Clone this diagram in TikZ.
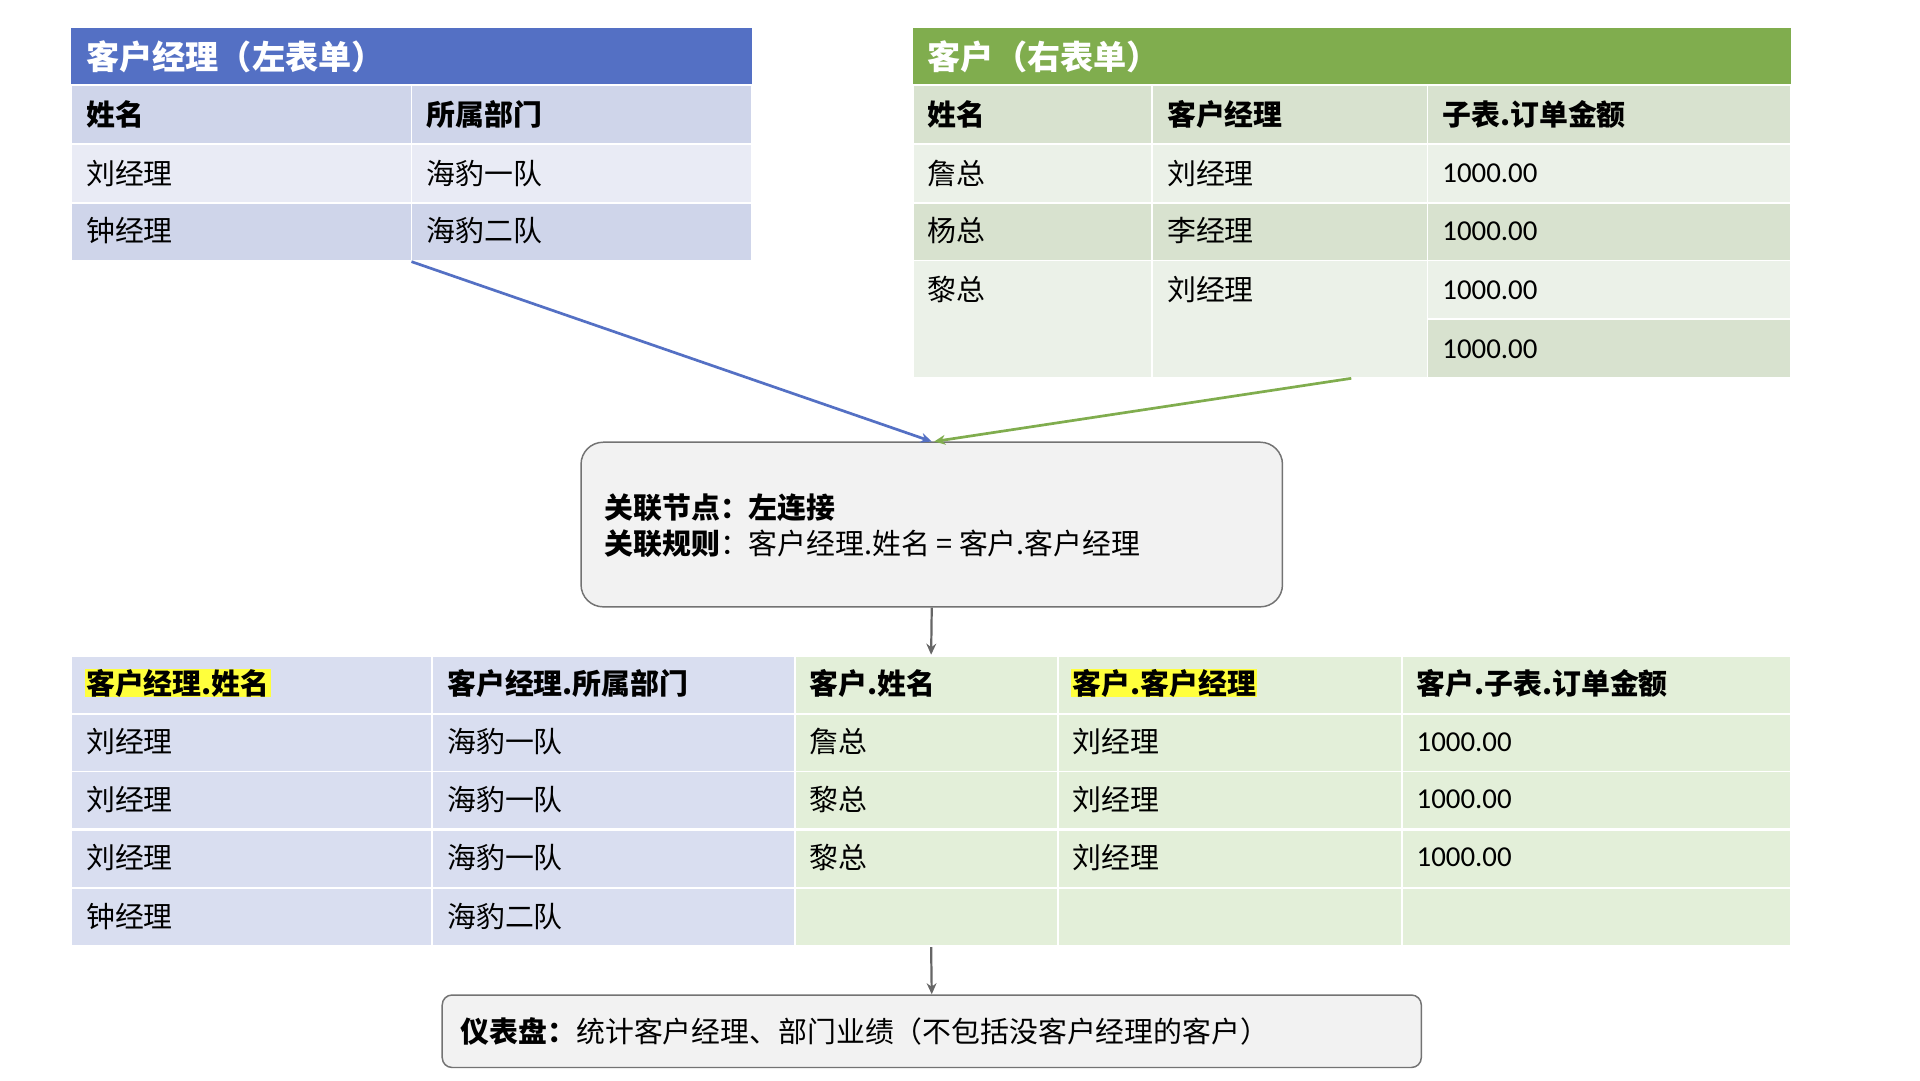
\documentclass[tikz,border=0pt]{standalone}
\usepackage{fontspec}
\setmainfont{Noto Sans CJK SC}
\newfontfamily\numfont{Carlito}
\usetikzlibrary{arrows.meta}
\definecolor{mgrhead}{HTML}{5470C4}
\definecolor{mgrdark}{HTML}{CFD5EA}
\definecolor{mgrlight}{HTML}{E9EBF5}
\definecolor{custhead}{HTML}{80AD4E}
\definecolor{custdark}{HTML}{D8E2CF}
\definecolor{custlight}{HTML}{EBF1E8}
\definecolor{resblue}{HTML}{D9DEF0}
\definecolor{resgreen}{HTML}{E3EFD9}
\definecolor{hl}{HTML}{FFFF3C}
\tikzset{
  cell/.style={draw=white, line width=1.5pt},
  txt/.style={anchor=west, inner sep=0pt, font=\fontsize{23.5}{28}\selectfont},
  bt/.style={txt, font=\fontsize{23.5}{28}\selectfont\bfseries},
  tt/.style={txt, text=white, font=\fontsize{27}{32}\selectfont\bfseries},
  link/.style={line width=2.2pt, -{Stealth[length=9pt,width=8pt]}},
  box/.style={draw=black!55, line width=1.2pt, fill=black!5, rounded corners=18pt}
}
\begin{document}
\begin{tikzpicture}[x=1pt,y=-1pt]
    \useasboundingbox[fill=white] (0,0) rectangle (1563,880);
    % left table
    \fill [mgrhead] (58,23) rectangle (612,68);
    \node[tt] (lhead) at (70,46) {客户经理（左表单）};
    \filldraw [cell, fill=mgrdark] (58,69) rectangle (335,117);
    \filldraw [cell, fill=mgrdark] (335,69) rectangle (612,117);
    \filldraw [cell, fill=mgrlight] (58,117) rectangle (335,165);
    \filldraw [cell, fill=mgrlight] (335,117) rectangle (612,165);
    \filldraw [cell, fill=mgrdark] (58,165) rectangle (335,212);
    \filldraw [cell, fill=mgrdark] (335,165) rectangle (612,212);
    \node[bt] (l11) at (70,93) {姓名};
    \node[bt] (l12) at (347,93) {所属部门};
    \node[txt] (l21) at (70,141) {刘经理};
    \node[txt] (l22) at (347,141) {海豹一队};
    \node[txt] (l31) at (70,188) {钟经理};
    \node[txt] (l32) at (347,188) {海豹二队};
    \coordinate (lout) at (335,213);
    % right table
    \fill [custhead] (743,23) rectangle (1458,68);
    \node[tt] (rhead) at (755,46) {客户（右表单）};
    \filldraw [cell, fill=custdark] (743,69) rectangle (938,117);
    \filldraw [cell, fill=custdark] (938,69) rectangle (1162,117);
    \filldraw [cell, fill=custdark] (1162,69) rectangle (1458,117);
    \filldraw [cell, fill=custlight] (743,117) rectangle (938,165);
    \filldraw [cell, fill=custlight] (938,117) rectangle (1162,165);
    \filldraw [cell, fill=custlight] (1162,117) rectangle (1458,165);
    \filldraw [cell, fill=custdark] (743,165) rectangle (938,212);
    \filldraw [cell, fill=custdark] (938,165) rectangle (1162,212);
    \filldraw [cell, fill=custdark] (1162,165) rectangle (1458,212);
    \filldraw [cell, fill=custlight] (743,212) rectangle (938,308);
    \filldraw [cell, fill=custlight] (938,212) rectangle (1162,308);
    \filldraw [cell, fill=custlight] (1162,212) rectangle (1458,260);
    \filldraw [cell, fill=custdark] (1162,260) rectangle (1458,308);
    \node[bt] (r11) at (755,93) {姓名};
    \node[bt] (r12) at (950,93) {客户经理};
    \node[bt] (r13) at (1174,93) {子表.订单金额};
    \node[txt] (r21) at (755,141) {詹总};
    \node[txt] (r22) at (950,141) {刘经理};
    \node[txt] (r23) at (1174,141) {\numfont 1000.00};
    \node[txt] (r31) at (755,188) {杨总};
    \node[txt] (r32) at (950,188) {李经理};
    \node[txt] (r33) at (1174,188) {\numfont 1000.00};
    \node[txt] (r41) at (755,236) {黎总};
    \node[txt] (r42) at (950,236) {刘经理};
    \node[txt] (r43) at (1174,236) {\numfont 1000.00};
    \node[txt] (r53) at (1174,284) {\numfont 1000.00};
    \coordinate (rout) at (1100,308);
    % join rule
    \node[box, minimum width=571pt, minimum height=134pt] (rule) at (758.5,427) {};
    \node[txt] (rule1) at (492,413) {\bfseries 关联节点：左连接};
    \node[txt] (rule2) at (492,443) {\bfseries 关联规则\mdseries ：客户经理.姓名 = 客户.客户经理};
    \draw [link, draw=mgrhead] (lout) -- (rule.north);
    \draw [link, draw=custhead] (rout) -- ([xshift=2pt]rule.north);
    % result table
    \foreach \y in {534,581,628,676,723} {
        \filldraw [cell, fill=resblue] (58,\y) rectangle (352,\y+47);
        \filldraw [cell, fill=resblue] (352,\y) rectangle (647,\y+47);
        \filldraw [cell, fill=resgreen] (647,\y) rectangle (861,\y+47);
        \filldraw [cell, fill=resgreen] (861,\y) rectangle (1141,\y+47);
        \filldraw [cell, fill=resgreen] (1141,\y) rectangle (1458,\y+47);
    }
    \coordinate (resin) at (758,533);
    \coordinate (resout) at (758,771);
    \node[bt, fill=hl, inner xsep=1pt] (h1) at (69,556) {客户经理.姓名};
    \node[bt] (h2) at (364,556) {客户经理.所属部门};
    \node[bt] (h3) at (659,556) {客户.姓名};
    \node[bt, fill=hl, inner xsep=1pt] (h4) at (872,556) {客户.客户经理};
    \node[bt] (h5) at (1153,556) {客户.子表.订单金额};
    \foreach \y/\a/\b/\c in {604/刘经理/海豹一队/詹总, 651/刘经理/海豹一队/黎总, 698/刘经理/海豹一队/黎总} {
        \node[txt] at (70,\y) {\a};
        \node[txt] at (364,\y) {\b};
        \node[txt] at (659,\y) {\c};
        \node[txt] at (873,\y) {刘经理};
        \node[txt] at (1153,\y) {\numfont 1000.00};
    }
    \node[txt] (c51) at (70,746) {钟经理};
    \node[txt] (c52) at (364,746) {海豹二队};
    \draw [link, draw=black!60, line width=1.8pt] (rule.south) -- (resin);
    % dashboard
    \node[box, rounded corners=8pt, minimum width=797pt, minimum height=59pt] (dash) at (758.5,839.5) {};
    \node[txt] (dashtxt) at (375,840) {\bfseries 仪表盘：\mdseries 统计客户经理、部门业绩（不包括没客户经理的客户）};
    \draw [link, draw=black!60, line width=1.8pt] (resout) -- (dash.north);
\end{tikzpicture}
\end{document}
